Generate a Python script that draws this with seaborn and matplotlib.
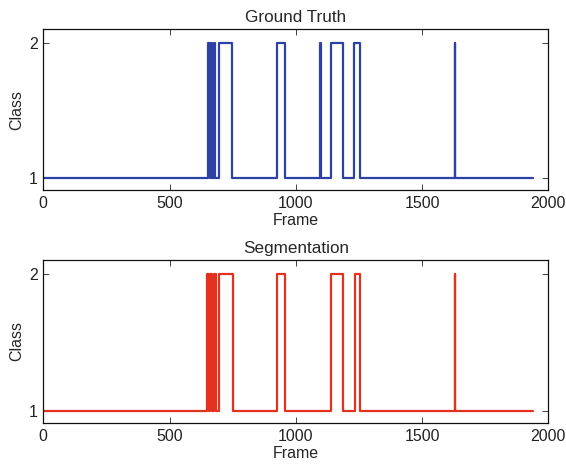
import numpy as np
import pandas as pd
import matplotlib
matplotlib.use("Agg")
import matplotlib.pyplot as plt
import seaborn as sns

# class-2 intervals (start frame, end frame), everything else is class 1
n_frames = 1940
gt_starts = [653, 664, 676, 697, 925, 1095, 1139, 1232, 1629]
gt_ends = [659, 670, 681, 749, 958, 1099, 1188, 1255, 1632]
seg_starts = [650, 662, 675, 697, 925, 1139, 1235, 1629]
seg_ends = [657, 669, 684, 751, 958, 1188, 1255, 1632]

titles = ["Ground Truth", "Segmentation"]
colors = ["#2c41a3", "#e2321f"]


def step_frame(starts, ends):
    xs, ys = [0], [1]
    for s, e in zip(starts, ends):
        xs += [s, e]
        ys += [2, 1]
    xs.append(n_frames)
    ys.append(1)
    return pd.DataFrame({"Frame": xs, "Class": ys})


sns.set_style("ticks")
plt.rcParams["font.family"] = ["Liberation Sans", "DejaVu Sans"]
plt.rcParams["xtick.direction"] = "in"
plt.rcParams["ytick.direction"] = "in"

fig = plt.figure(figsize=(5.66, 4.65), dpi=100)
ax1 = fig.add_axes([0.0765, 0.5914, 0.8922, 0.3462])
ax2 = fig.add_axes([0.0765, 0.0903, 0.8922, 0.3506])

data = [step_frame(gt_starts, gt_ends), step_frame(seg_starts, seg_ends)]

for ax, df, title, col in zip([ax1, ax2], data, titles, colors):
    sns.lineplot(data=df, x="Frame", y="Class", drawstyle="steps-post",
                 color=col, linewidth=1.6, estimator=None, sort=False, ax=ax)
    ax.set_xlim(0, 2000)
    ax.set_ylim(0.91, 2.1)
    ax.set_xticks([0, 500, 1000, 1500, 2000])
    ax.set_yticks([1, 2])
    ax.tick_params(top=True, right=True, labelsize=11.5, length=4, width=0.6,
                   pad=4, colors="#222222")
    ax.set_xlabel("Frame", fontsize=11.5, labelpad=1.5)
    ax.set_ylabel("Class", fontsize=11.5, labelpad=3)
    ax.set_title(title, fontsize=12.3, pad=5)
    for sp in ax.spines.values():
        sp.set_linewidth(0.9)
        sp.set_color("#111111")

fig.savefig("out.png", dpi=100)
